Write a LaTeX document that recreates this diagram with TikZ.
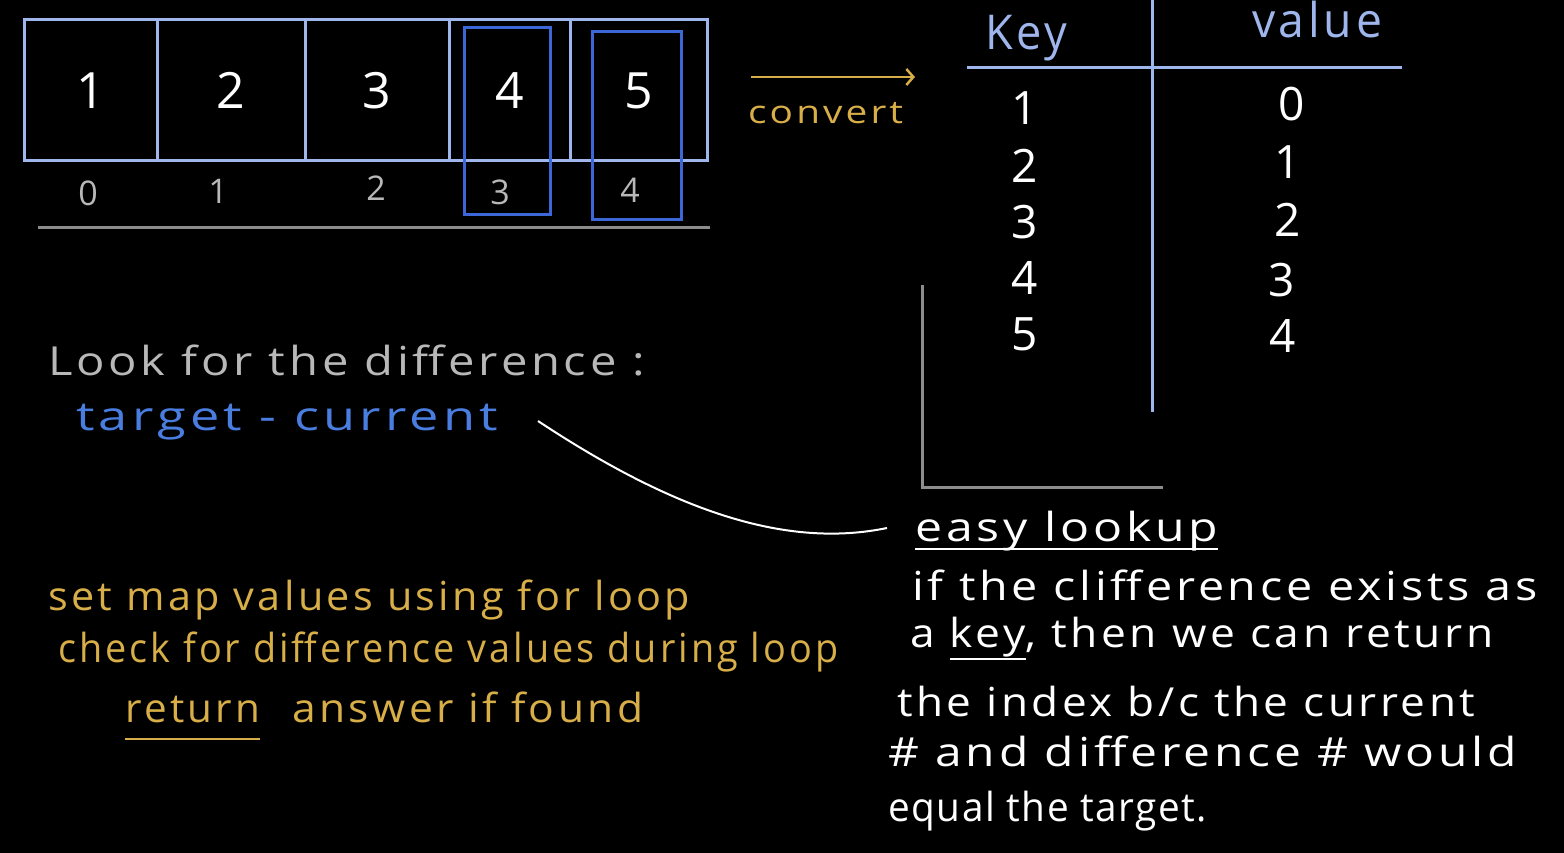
\documentclass[tikz,border=0pt]{standalone}
\usepackage{fontspec}
\usepackage{graphicx}
\setmainfont{Open Sans}
\newfontfamily\hand{Open Sans}[LetterSpace=8]
\newfontfamily\handn{Open Sans}[LetterSpace=4]
\usetikzlibrary{arrows.meta}
\definecolor{lblue}{HTML}{9FB6EC}
\definecolor{hblue}{HTML}{3B68D6}
\definecolor{tblue}{HTML}{4A7DE0}
\definecolor{gold}{HTML}{D7AE48}
\definecolor{gtext}{HTML}{B8B8B8}
\definecolor{gline}{HTML}{8C8C8C}
\newcommand{\hs}[1]{\fontsize{#1}{#1}\selectfont}
\newcommand{\fitw}[2]{\resizebox{#1pt}{\height}{#2}}
\newcommand{\uline}[2]{\setbox0\hbox{#2}\rlap{\rule[-#1pt]{\wd0}{2.5pt}}\box0}
\tikzset{
  cell/.style={draw=lblue, line width=3pt, minimum height=141pt, inner sep=0pt, text=white, font=\handn\hs{50}},
  hbox/.style={draw=hblue, line width=3pt, inner sep=0pt},
  idx/.style={text=gtext, font=\handn\hs{34}, inner sep=0pt},
  tline/.style={draw=lblue, line width=3pt},
  gl/.style={draw=gline, line width=3pt},
  hdr/.style={text=lblue, font=\hand\hs{48}, inner sep=0pt, anchor=base},
  tnum/.style={text=white, font=\handn\hs{46}, inner sep=0pt},
  wtxt/.style={text=white, font=\hand\hs{40}, inner sep=0pt, anchor=base west},
  gtx/.style={text=gold, font=\hand\hs{40}, inner sep=0pt, anchor=base west},
}
\begin{document}
\begin{tikzpicture}[x=1pt,y=-1pt]
\fill[black] (0,0) rectangle (1564,853);
\useasboundingbox (0,0) rectangle (1564,853);

% array
\node[cell, minimum width=133pt] (c1) at (90.5,90.5) {1};
\node[cell, minimum width=148pt] (c2) at (231,90.5) {2};
\node[cell, minimum width=144pt] (c3) at (377,90.5) {3};
\node[cell, minimum width=121pt] (c4) at (509.5,90.5) {4};
\node[cell, minimum width=137pt] (c5) at (638.5,90.5) {5};
\node[hbox, minimum width=86pt, minimum height=187pt] (h1) at (507,121.5) {};
\node[hbox, minimum width=89pt, minimum height=188pt] (h2) at (636.5,126) {};
\node[idx] (i0) at (88,193) {0};
\node[idx] (i1) at (218,191) {1};
\node[idx] (i2) at (376,188) {2};
\node[idx] (i3) at (500,192) {3};
\node[idx] (i4) at (630,190) {4};
\coordinate (ul1) at (38,228);
\coordinate (ul2) at (710,228);
\draw[gl] (ul1) -- (ul2);

% convert arrow
\coordinate (a1) at (751,77);
\coordinate (a2) at (915,77);
\draw[draw=gold, line width=2.5pt, -{Straight Barb[length=7pt,width=16pt]}] (a1) -- (a2);
\node[text=gold, font=\hand\hs{32}, inner sep=0pt, anchor=base west] (conv) at (748,124) {\fitw{155}{convert}};

% table
\node[hdr] (key) at (1026,50) {\fitw{82}{Key}};
\node[hdr] (val) at (1317,38) {\fitw{130}{value}};
\coordinate (th1) at (967,68);
\coordinate (th2) at (1402,68);
\coordinate (tv1) at (1152,0);
\coordinate (tv2) at (1152,412);
\draw[tline] (th1) -- (th2);
\draw[tline] (tv1) -- (tv2);
\node[tnum] (k1) at (1025,108) {1};
\node[tnum] (k2) at (1025,166) {2};
\node[tnum] (k3) at (1025,222) {3};
\node[tnum] (k4) at (1025,278) {4};
\node[tnum] (k5) at (1025,334) {5};
\node[tnum] (v0) at (1292,104) {0};
\node[tnum] (v1) at (1288,162) {1};
\node[tnum] (v2) at (1288,220) {2};
\node[tnum] (v3) at (1282,280) {3};
\node[tnum] (v4) at (1283,336) {4};

% gray L
\coordinate (L1) at (922,285);
\coordinate (L2) at (922,487);
\coordinate (L3) at (1163,487);
\draw[gl] (L1) -- (L2) -- (L3);

% left texts
\node[wtxt, text=gtext] (look) at (48,375) {\fitw{597}{Look for the difference :}};
\node[wtxt, text=tblue] (tc) at (76,430) {\fitw{422}{target - current}};

% curve
\coordinate (cs) at (538,421);
\coordinate (ce) at (887,528);
\draw[white, line width=2pt] (cs) .. controls (680,515) and (790,548) .. (ce);

% right paragraph
\node[wtxt] (easy) at (915,541) {\fitw{303}{\uline{9}{easy lookup}}};
\node[wtxt] (p1) at (912,600) {\fitw{625}{if the clifference exists as}};
\node[wtxt] (p2) at (910,647) {\fitw{583}{a \uline{13}{key}, then we can return}};
\node[wtxt] (p3) at (897,716) {\fitw{578}{the index b/c the current}};
\node[wtxt] (p4) at (888,766) {\fitw{629}{\# and difference \# would}};
\node[wtxt, font=\handn\hs{40}] (p5) at (888,821) {\fitw{319}{equal the target.}};

% gold texts
\node[gtx] (g1) at (48,610) {\fitw{642}{set map values using for loop}};
\node[gtx] (g2) at (58,662) {\fitw{780}{check for difference values during loop}};
\node[gtx] (g3r) at (125,722) {\fitw{135}{\uline{18}{return}}};
\node[gtx] (g3) at (292,722) {\fitw{351}{answer if found}};
\end{tikzpicture}
\end{document}
